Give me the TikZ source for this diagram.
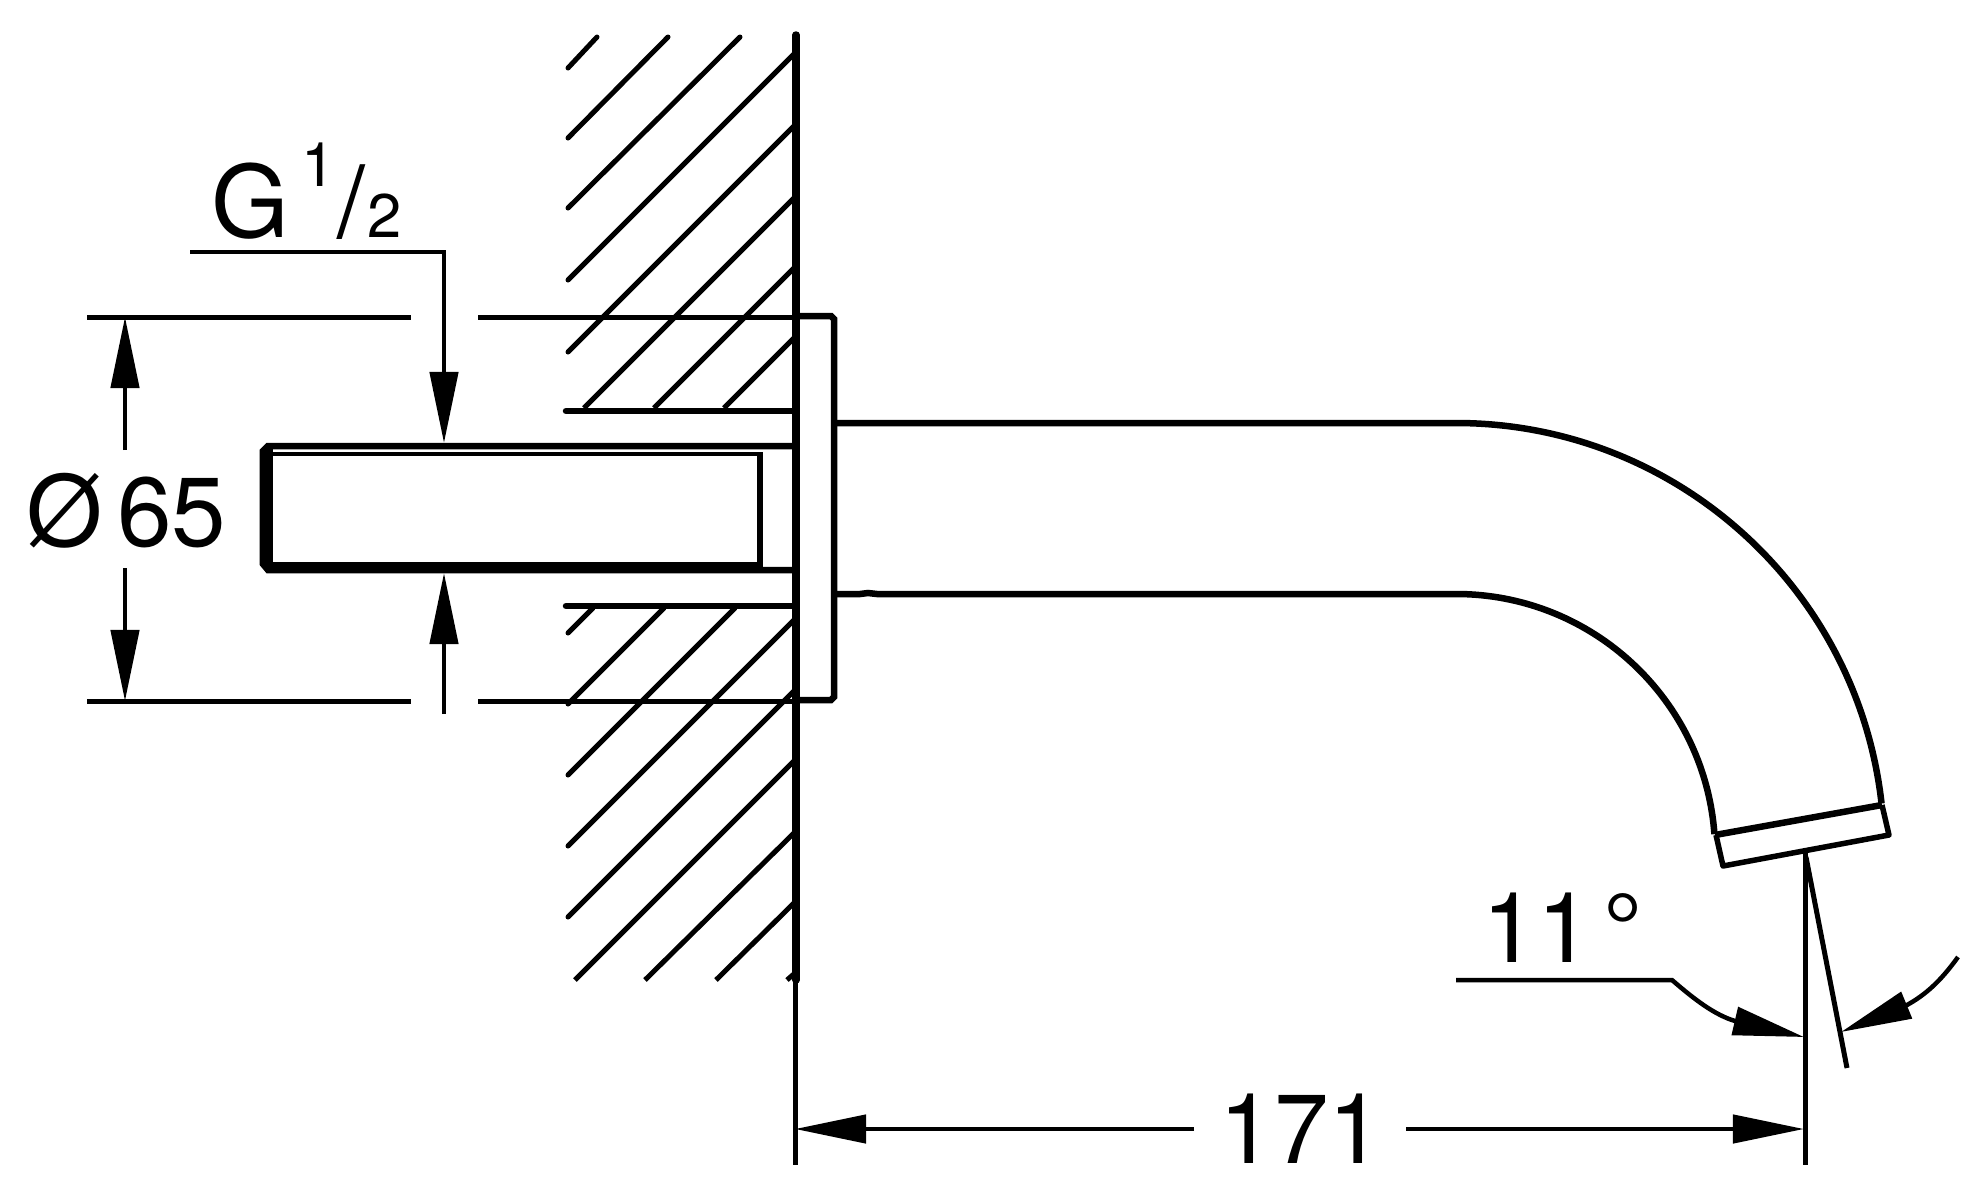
\documentclass[tikz,border=0pt]{standalone}
\usepackage{fontspec}
\setmainfont{TeX Gyre Heros}
\usetikzlibrary{arrows.meta}
\newcommand{\bigfont}{\fontsize{27.9}{30}\selectfont}
\newcommand{\smallfont}{\fontsize{17.5}{20}\selectfont}
\tikzset{
  thin line/.style={line width=0.05cm},
  body line/.style={line width=0.065cm},
  dim arrow/.style={line width=0.045cm,-{Triangle[length=0.71cm,width=0.28cm]}},
  dim text/.style={font=\bigfont,inner sep=0pt,anchor=base west}
}

\begin{document}
\begin{tikzpicture}[x=0.01cm,y=-0.01cm]
    \useasboundingbox (0,0) rectangle (1974,1181);

    % wall hatching
    \draw[thin line,line cap=round] (568,68) -- (597,37);
    \foreach \y/\ex/\ey in {138/668/37, 208/740/37, 280/795/53, 352/795/125} {
      \draw[thin line,line cap=round] (568,\y) -- (\ex,\ey);
    }
    \draw[thin line] (584,408) -- (795,197);
    \draw[thin line] (654,408) -- (795,267);
    \draw[thin line] (724,408) -- (795,337);
    \draw[thin line,line cap=round] (568,633) -- (593,608);
    \draw[thin line,line cap=round] (568,704) -- (664,608);
    \draw[thin line,line cap=round] (568,775) -- (735,608);
    \draw[thin line,line cap=round] (568,846) -- (795,619);
    \draw[thin line,line cap=round] (568,917) -- (795,690);
    \foreach \sx/\wy in {575/760, 645/832, 716/902, 787/973} {
      \draw[thin line] (\sx,980) -- (795,\wy);
    }
    \draw[body line,line cap=round] (566,411) -- (795,411);
    \draw[body line,line cap=round] (566,606) -- (795,606);
    \draw[line width=0.075cm,line cap=round] (796,35) -- (796,980);

    % threaded stub
    \draw[body line] (796,446) -- (268,446) -- (263,451) -- (263,564) -- (268,570) -- (796,570);
    \draw[line width=0.07cm] (269,446) -- (269,570);
    \draw[line width=0.035cm] (272,454) -- (760,454);
    \draw[thin line] (272,564) -- (760,564);
    \draw[body line] (760,452) -- (760,568);

    % flange and spout
    \draw[body line] (796,316) -- (831,316) -- (834,319) -- (834,697) -- (831,700) -- (796,700);
    \draw[body line] (837,423) -- (1456,423) arc[start angle=90,end angle=6.4,radius=4.28cm];
    \draw[body line] (837,594) -- (860,594) -- (868,593) -- (877,594) -- (1456,594)
      arc[start angle=90,end angle=4.2,radius=2.59cm];
    \draw[body line] (1715,835) -- (1882,805);
    \draw[line width=0.055cm,line join=round] (1716,835) -- (1723,866) -- (1889,835) -- (1882,805);

    % extension lines
    \draw[thin line] (87,317) -- (411,317);
    \draw[thin line] (478,317) -- (796,317);
    \draw[thin line] (87,701) -- (411,701);
    \draw[thin line] (478,701) -- (796,701);
    \draw[thin line] (795,980) -- (795,1165);
    \draw[thin line] (1805,850) -- (1805,1165);
    \draw[thin line] (1806,857) -- (1847,1068);

    % dimensions
    \node[dim text] (dia-label) at (26,546) {Ø\hspace{4pt}65};
    \draw[dim arrow] (125,450) -- (125,317);
    \draw[dim arrow] (125,568) -- (125,701);

    \node[dim text] (thread-label) at (211,237) {\fontsize{28.4}{30}\selectfont G\hspace{3.5pt}\raisebox{14.5pt}{\smallfont 1}\hspace{0.5pt}/\hspace{0.5pt}{\smallfont 2}};
    \draw[dim arrow] (190,252) -- (444,252) -- (444,443);
    \draw[dim arrow] (444,714) -- (444,573);

    \node[dim text] (length-label) at (1219,1163) {171};
    \draw[dim arrow] (1194,1129) -- (795,1129);
    \draw[dim arrow] (1406,1129) -- (1804,1129);

    \node[dim text] (angle-label) at (1482,962) {11\hspace{3.4pt}°};
    \draw[dim arrow] (1456,980) -- (1672,980)
      .. controls (1695,1000) and (1715,1015) .. (1735,1021) -- (1804,1037);
    \draw[dim arrow] (1958,957) .. controls (1940,982) and (1925,995) .. (1907,1005) -- (1841,1032);
  \end{tikzpicture}
\end{document}
